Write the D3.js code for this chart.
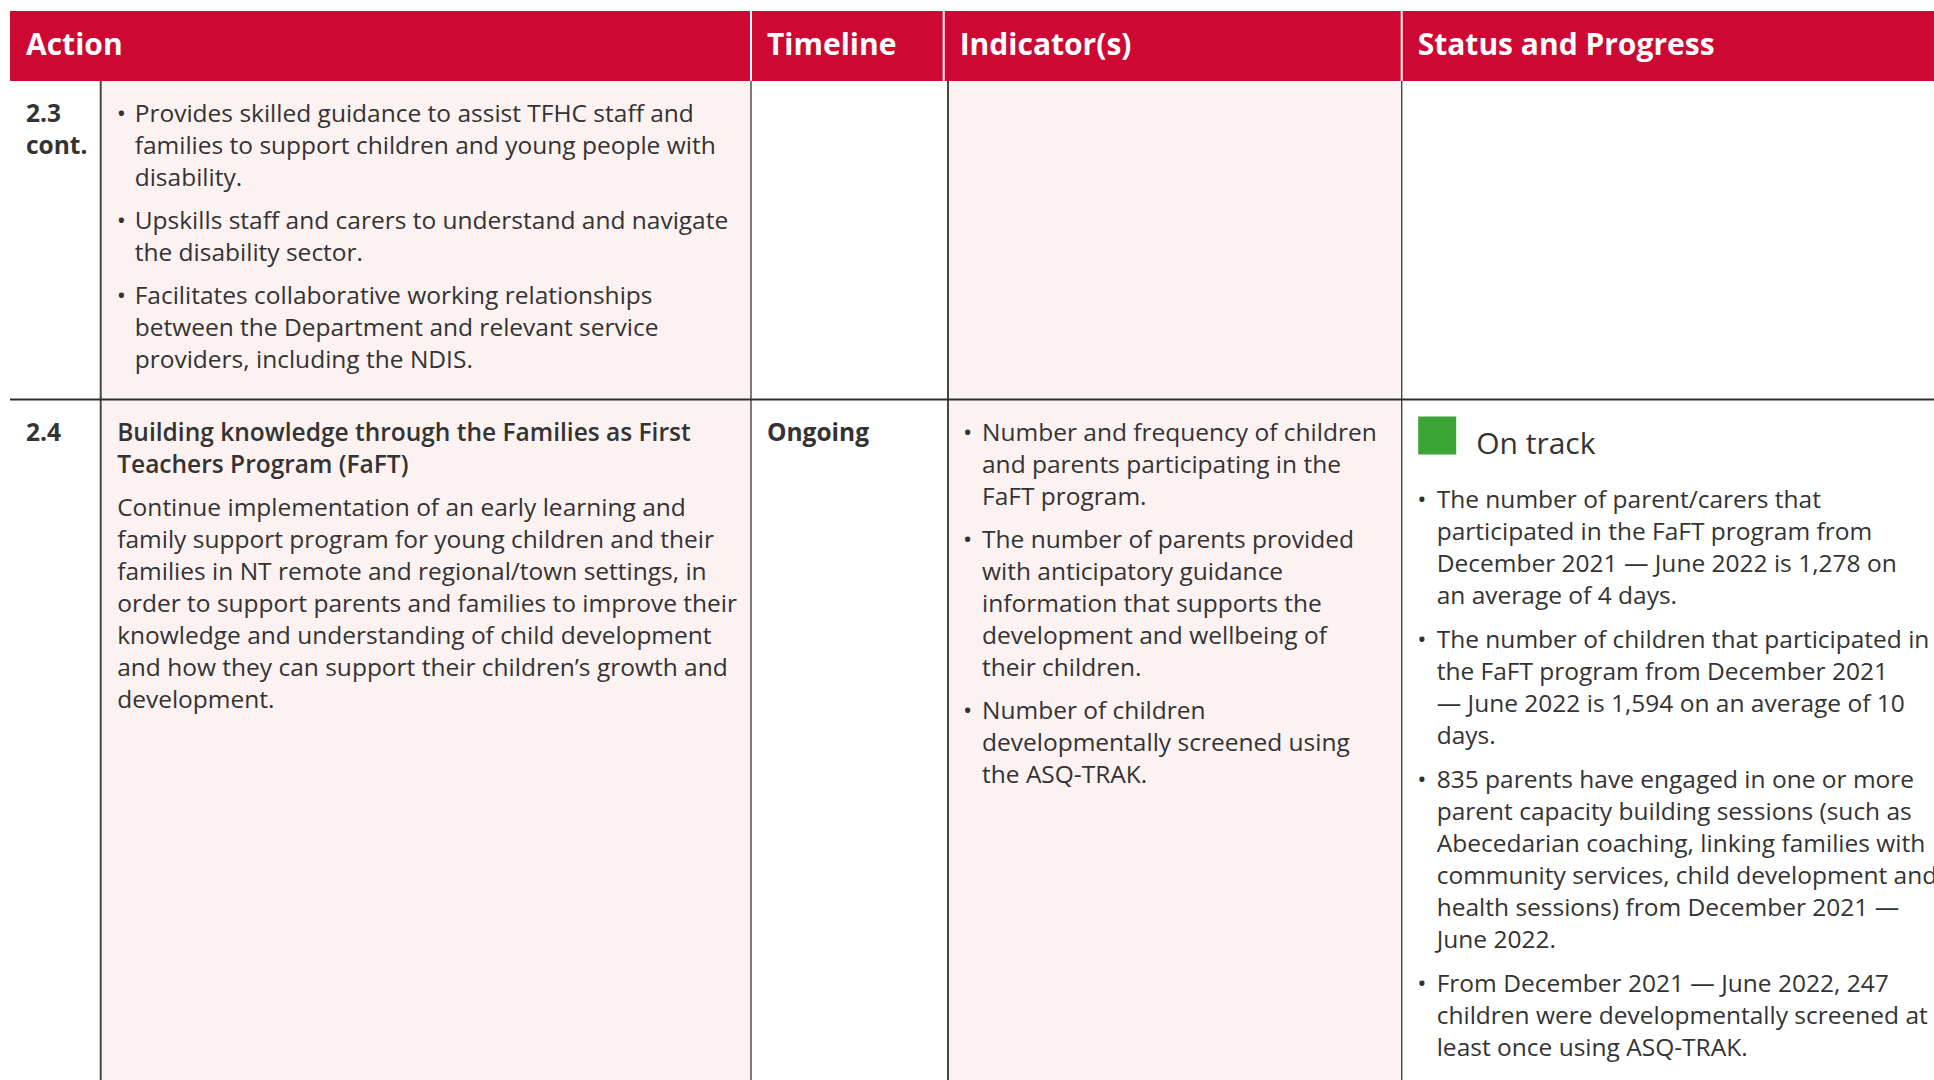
<!DOCTYPE html>
<html>
<head>
<meta charset="utf-8">
<script src="https://cdn.jsdelivr.net/npm/d3@7"></script>
<style>
  html, body { margin: 0; padding: 0; background: #ffffff; overflow: hidden; }
  svg { display: block; }
  text { font-family: "Open Sans", "Noto Sans", sans-serif; }
</style>
</head>
<body>
<script>
// ---------------- DATA ----------------
const columns = ["Action", "Timeline", "Indicator(s)", "Status and Progress"];

const rowIds = [["2.3", "cont."], ["2.4"]];

const actionRow1 = [
  { bullet: true, lines: ["Provides skilled guidance to assist TFHC staff and", "families to support children and young people with", "disability."] },
  { bullet: true, lines: ["Upskills staff and carers to understand and navigate", "the disability sector."] },
  { bullet: true, lines: ["Facilitates collaborative working relationships", "between the Department and relevant service", "providers, including the NDIS."] }
];

const actionRow2 = [
  { bold: true, lines: ["Building knowledge through the Families as First", "Teachers Program (FaFT)"] },
  { lines: ["Continue implementation of an early learning and", "family support program for young children and their", "families in NT remote and regional/town settings, in", "order to support parents and families to improve their", "knowledge and understanding of child development", "and how they can support their children\u2019s growth and", "development."] }
];

const timelines = ["", "Ongoing"];

const indicatorsRow2 = [
  { bullet: true, lines: ["Number and frequency of children", "and parents participating in the", "FaFT program."] },
  { bullet: true, lines: ["The number of parents provided", "with anticipatory guidance", "information that supports the", "development and wellbeing of", "their children."] },
  { bullet: true, lines: ["Number of children", "developmentally screened using", "the ASQ-TRAK."] }
];

const statusLabels = ["", "On track"];
const statusColors = { "On track": "#3ca335" };

const statusRow2 = [
  { bullet: true, lines: ["The number of parent/carers that", "participated in the FaFT program from", "December 2021 \u2014 June 2022 is 1,278 on", "an average of 4 days."] },
  { bullet: true, lines: ["The number of children that participated in", "the FaFT program from December 2021", "\u2014 June 2022 is 1,594 on an average of 10", "days."] },
  { bullet: true, lines: ["835 parents have engaged in one or more", "parent capacity building sessions (such as", "Abecedarian coaching, linking families with", "community services, child development and", "health sessions) from December 2021 \u2014", "June 2022."] },
  { bullet: true, lines: ["From December 2021 \u2014 June 2022, 247", "children were developmentally screened at", "least once using ASQ-TRAK."] }
];

// ---------------- LAYOUT ----------------
const W = 1934, H = 1080;
const RED = "#cc0833", PINK = "#fcf2f1", INK = "#333333", RULE = "#454545";
const headerTop = 11, headerBottom = 81;
const rowTops = [81, 399.5];
const FS = 24.5, LH = 32;

const svg = d3.select("body").append("svg").attr("width", W).attr("height", H);

// header column scale
const xHead = d3.scaleOrdinal().domain(columns).range([10, 751, 943.7, 1401.7]);

// body column scale
const bodyCols = ["id", "action", "timeline", "indicator", "status"];
const xBody = d3.scaleOrdinal().domain(bodyCols).range([10, 100.7, 751, 948, 1401.7]);
const xBodyRight = d3.scaleOrdinal().domain(bodyCols).range([100.7, 751, 948, 1401.7, W]);
const bodyFill = d3.scaleOrdinal().domain(bodyCols).range(["#ffffff", PINK, "#ffffff", PINK, "#ffffff"]);

// body backgrounds
svg.append("g").selectAll("rect").data(bodyCols).join("rect")
  .attr("x", d => xBody(d)).attr("y", headerBottom)
  .attr("width", d => xBodyRight(d) - xBody(d)).attr("height", H - headerBottom)
  .attr("fill", d => bodyFill(d));

// header
svg.append("rect").attr("x", 10).attr("y", headerTop).attr("width", W - 10).attr("height", headerBottom - headerTop).attr("fill", RED);
svg.append("g").selectAll("line").data(columns.slice(1)).join("line")
  .attr("x1", d => xHead(d)).attr("x2", d => xHead(d))
  .attr("y1", headerTop).attr("y2", headerBottom)
  .attr("stroke", "#ffffff").attr("stroke-width", 2);
svg.append("g").selectAll("text").data(columns).join("text")
  .attr("x", d => xHead(d) + 16).attr("y", 55)
  .attr("fill", "#ffffff").attr("font-size", 30).attr("font-weight", 700)
  .text(d => d);

// body vertical rules
svg.append("g").selectAll("line").data(bodyCols.slice(1)).join("line")
  .attr("x1", d => xBody(d)).attr("x2", d => xBody(d))
  .attr("y1", headerBottom).attr("y2", H)
  .attr("stroke", RULE).attr("stroke-width", (d, i) => (i === 0 || i === 2) ? 2 : 1.4);

// row separator
svg.append("line").attr("x1", 10).attr("x2", W).attr("y1", rowTops[1]).attr("y2", rowTops[1])
  .attr("stroke", "#2e2e2e").attr("stroke-width", 2);

// text block helper
function drawBlock(g, paras, x, firstBaseline, opts) {
  const bulletDx = opts.bulletDx || 0;
  const gap = opts.gap || 43;
  let y = firstBaseline;
  const items = [];
  paras.forEach((p, pi) => {
    if (pi > 0) y += gap - LH;
    p.lines.forEach((ln, li) => {
      items.push({ text: ln, y: y, bold: !!p.bold, bullet: p.bullet && li === 0 });
      y += LH;
    });
  });
  g.selectAll(null).data(items).join("text")
    .attr("x", x + bulletDx).attr("y", d => d.y)
    .attr("fill", INK).attr("font-size", FS)
    .attr("font-weight", d => d.bold ? 600 : 400)
    .text(d => d.text);
  g.selectAll(null).data(items.filter(d => d.bullet)).join("text")
    .attr("x", x).attr("y", d => d.y)
    .attr("fill", INK).attr("font-size", FS)
    .text("\u2022");
}

const body = svg.append("g");

// row ids
rowIds.forEach((ids, r) => {
  body.append("g").selectAll("text").data(ids).join("text")
    .attr("x", xBody("id") + 16).attr("y", (d, i) => rowTops[r] + 41 + i * LH)
    .attr("fill", INK).attr("font-size", FS).attr("font-weight", 700)
    .text(d => d);
});

// action cells
drawBlock(body.append("g"), actionRow1, xBody("action") + 16, rowTops[0] + 41, { bulletDx: 18 });
drawBlock(body.append("g"), actionRow2, xBody("action") + 16.5, rowTops[1] + 41, { gap: 43.5 });

// timeline
body.append("g").selectAll("text").data(timelines).join("text")
  .attr("x", xBody("timeline") + 16).attr("y", (d, i) => rowTops[i] + 41)
  .attr("fill", INK).attr("font-size", FS).attr("font-weight", 700)
  .text(d => d);

// indicators
drawBlock(body.append("g"), indicatorsRow2, xBody("indicator") + 15, rowTops[1] + 41, { bulletDx: 19 });

// status label with swatch
const statusG = body.append("g");
statusLabels.forEach((lab, r) => {
  if (!lab) return;
  statusG.append("rect")
    .attr("x", xBody("status") + 16.5).attr("y", rowTops[r] + 17)
    .attr("width", 38).attr("height", 38)
    .attr("fill", statusColors[lab]);
  statusG.append("text")
    .attr("x", xBody("status") + 74.5).attr("y", rowTops[r] + 54)
    .attr("fill", INK).attr("font-size", 30)
    .text(lab);
});
drawBlock(body.append("g"), statusRow2, xBody("status") + 15.5, rowTops[1] + 108.5, { bulletDx: 19.5, gap: 44 });
</script>
</body>
</html>
